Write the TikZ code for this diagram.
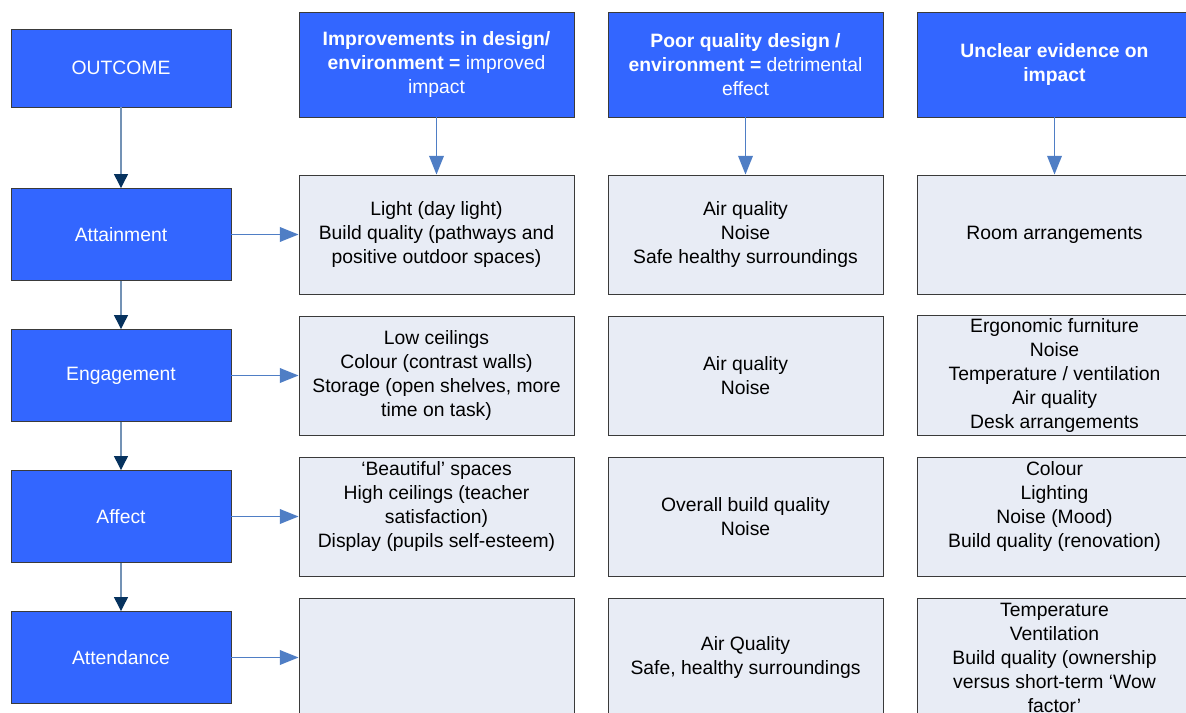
\documentclass[tikz,border=0pt]{standalone}
\usepackage{fontspec}
\setmainfont{Liberation Sans}
\usetikzlibrary{arrows.meta}
\definecolor{boxblue}{HTML}{3366FF}
\definecolor{boxlight}{HTML}{E8ECF5}
\definecolor{vline}{HTML}{7392B5}
\definecolor{vhead}{HTML}{06325E}
\definecolor{hline}{HTML}{4F7EC5}
\definecolor{edge}{HTML}{3A3A3A}
\tikzset{
  base/.style={draw=edge, line width=0.7pt, inner sep=2pt, align=center,
    font=\fontsize{14.5pt}{18pt}\selectfont},
  leftbox/.style={base, fill=boxblue, text=white, minimum width=165pt, minimum height=69pt},
  headbox/.style={base, fill=boxblue, text=white, minimum width=206.25pt, minimum height=78.75pt},
  cellbox/.style={base, fill=boxlight, text=black, minimum width=206.25pt, minimum height=89.25pt},
  varrow/.style={draw=vline, line width=1pt, -{Triangle[length=10.5pt,width=10.5pt,color=vhead]}},
  harrow/.style={draw=hline, line width=1pt, -{Triangle[length=14pt,width=11pt,color=hline]}},
}
\begin{document}
\begin{tikzpicture}[x=0.75pt,y=-0.75pt]
\useasboundingbox (0,0) rectangle (1186,713);
\clip (0,0) rectangle (1186,713);
% left column
\node[leftbox, minimum height=58.5pt] (out) at (121,68) {OUTCOME};
\node[leftbox] (att) at (121,234.5) {Attainment};
\node[leftbox] (eng) at (121,375.5) {Engagement};
\node[leftbox] (aff) at (121,516.5) {Affect};
\node[leftbox] (atd) at (121,657.5) {Attendance};
% headers
\node[headbox] (h1) at (436.5,64.5) {\textbf{Improvements in design/}\\\textbf{environment =} improved\\impact};
\node[headbox] (h2) at (745.5,64.5) {\textbf{Poor quality design /}\\\textbf{environment =} detrimental\\effect};
\node[headbox] (h3) at (1054.5,64.5) {\textbf{Unclear evidence on}\\\textbf{impact}};
% row 1
\node[cellbox] (c11) at (436.5,234.5) {Light (day light)\\Build quality (pathways and\\positive outdoor spaces)};
\node[cellbox] (c12) at (745.5,234.5) {Air quality\\Noise\\Safe healthy surroundings};
\node[cellbox] (c13) at (1054.5,234.5) {Room arrangements};
% row 2
\node[cellbox] (c21) at (436.5,375.5) {Low ceilings\\Colour (contrast walls)\\Storage (open shelves, more\\time on task)};
\node[cellbox] (c22) at (745.5,375.5) {Air quality\\Noise};
\node[cellbox] (c23) at (1054.5,375.5) {Ergonomic furniture\\Noise\\Temperature / ventilation\\Air quality\\Desk arrangements};
% row 3
\node[cellbox] (c31) at (436.5,516.5) {‘Beautiful’ spaces\\High ceilings (teacher\\satisfaction)\\Display (pupils self-esteem)\\\mbox{}};
\node[cellbox] (c32) at (745.5,516.5) {Overall build quality\\Noise};
\node[cellbox] (c33) at (1054.5,516.5) {Colour\\Lighting\\Noise (Mood)\\Build quality (renovation)\\\mbox{}};
% row 4
\node[cellbox] (c41) at (436.5,657.5) {};
\node[cellbox] (c42) at (745.5,657.5) {Air Quality\\Safe, healthy surroundings};
\node[cellbox] (c43) at (1054.5,657.5) {Temperature\\Ventilation\\Build quality (ownership\\versus short-term ‘Wow\\factor’};
% vertical arrows left
\draw[varrow] (out) -- (att);
\draw[varrow] (att) -- (eng);
\draw[varrow] (eng) -- (aff);
\draw[varrow] (aff) -- (atd);
% header arrows
\draw[harrow] (h1) -- (c11);
\draw[harrow] (h2) -- (c12);
\draw[harrow] (h3) -- (c13);
% horizontal arrows
\draw[harrow] (att) -- (c11);
\draw[harrow] (eng) -- (c21);
\draw[harrow] (aff) -- (c31);
\draw[harrow] (atd) -- (c41);
\end{tikzpicture}
\end{document}
